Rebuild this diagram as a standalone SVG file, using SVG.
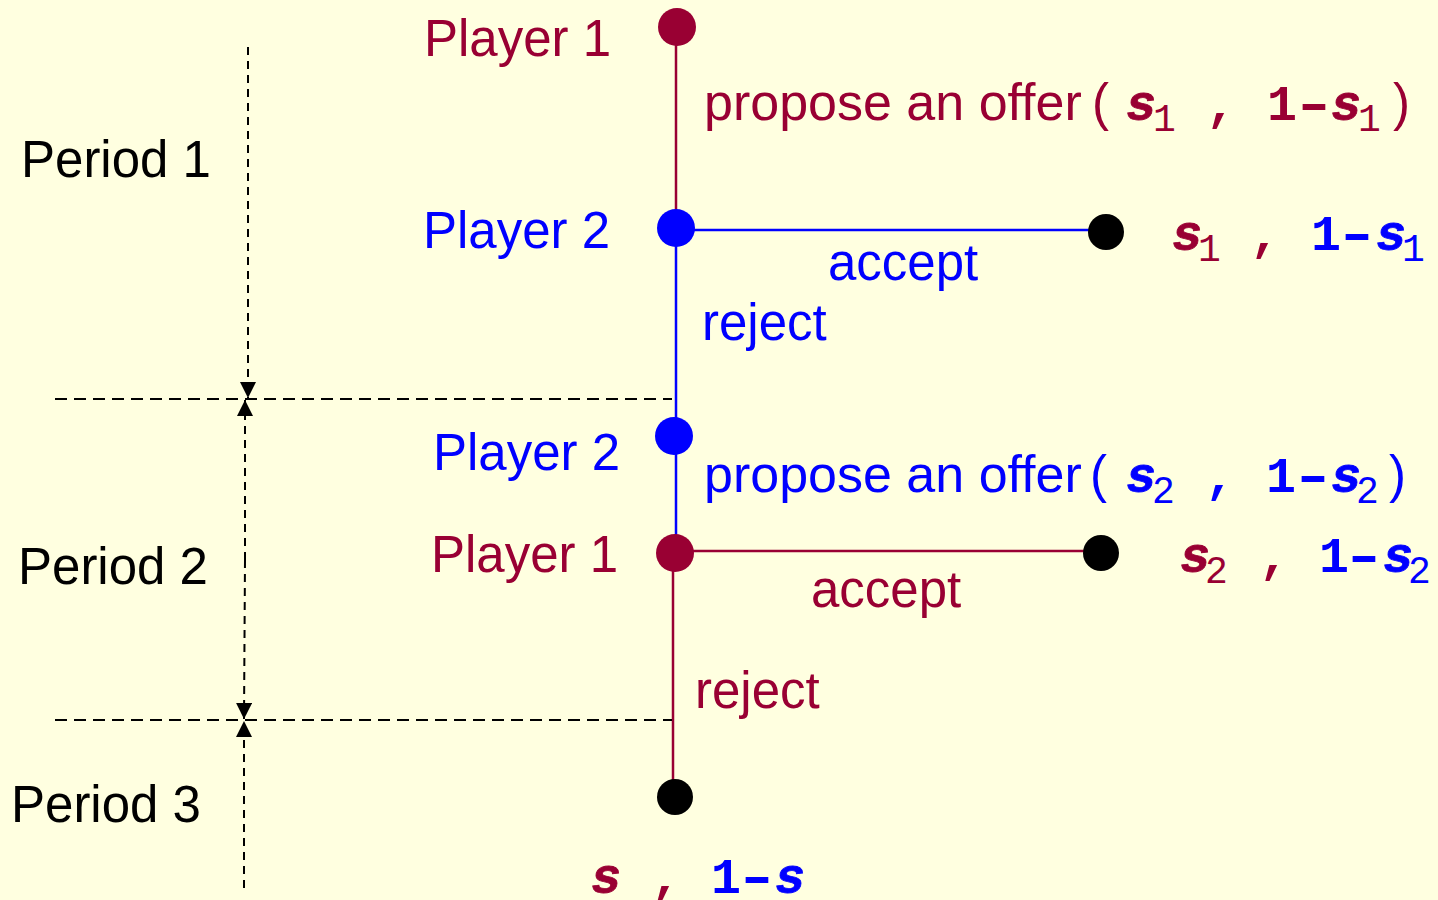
<svg xmlns="http://www.w3.org/2000/svg" width="1438" height="900" viewBox="0 0 1438 900">
<defs>
<marker id="ah" viewBox="0 0 10 10" refX="10" refY="5" markerWidth="17" markerHeight="16" markerUnits="userSpaceOnUse" orient="auto">
<path d="M0,0 L10,5 L0,10 Z" fill="#000"/>
</marker>
</defs>
<style>
.sans{font-family:"Liberation Sans",Arial,sans-serif;font-size:51px}
.wide{font-size:52px}
.mono{font-family:"Liberation Mono","Courier New",monospace;font-size:50px;font-weight:bold}
.var{font-style:italic;stroke-width:0.8px}
.var.red{stroke:#990033}
.var.blue{stroke:#0000FF}
.sub{font-family:"Liberation Mono","Courier New",monospace;font-size:38px;font-weight:normal;font-style:normal}
.red{fill:#990033}
.blue{fill:#0000FF}
.blk{fill:#000}
.dash{stroke:#000;stroke-width:2;fill:none}
</style>
<rect width="1438" height="900" fill="#FFFFE0"/>

<g id="connectors">
<line x1="676" y1="27" x2="676" y2="228" stroke="#990033" stroke-width="2.5"/>
<line x1="676" y1="228" x2="676" y2="553" stroke="#0000FF" stroke-width="2.5"/>
<line x1="676" y1="230" x2="1106" y2="230" stroke="#0000FF" stroke-width="2.5"/>
<line x1="673" y1="553" x2="673" y2="797" stroke="#990033" stroke-width="2.5"/>
<line x1="675" y1="551" x2="1101" y2="551" stroke="#990033" stroke-width="2.5"/>
</g>

<g id="periods">
<line class="dash" x1="55" y1="399" x2="672" y2="399" stroke-dasharray="12 7"/>
<line class="dash" x1="55" y1="720" x2="672" y2="720" stroke-dasharray="12 7"/>
<line class="dash" x1="248" y1="47" x2="248" y2="398" stroke-dasharray="8 6" marker-end="url(#ah)"/>
<line class="dash" x1="245" y1="560" x2="245" y2="400" stroke-dasharray="8 6" marker-end="url(#ah)"/>
<line class="dash" x1="245" y1="560" x2="244" y2="719" stroke-dasharray="8 6" marker-end="url(#ah)"/>
<line class="dash" x1="244" y1="888" x2="244" y2="721" stroke-dasharray="8 6" marker-end="url(#ah)"/>
<text class="sans blk" x="21" y="177">Period 1</text>
<text class="sans blk" x="18" y="584">Period 2</text>
<text class="sans blk" x="11" y="822">Period 3</text>
</g>

<g id="p1-start">
<circle cx="677" cy="27" r="19" fill="#990033"/>
<text class="sans red" x="424" y="56">Player 1</text>
</g>
<g id="offer1">
<text class="sans wide red" x="704" y="120">propose an offer</text>
<text class="sans red" x="1092" y="120">(</text>
<text class="mono var red" x="1126" y="120">s</text>
<text class="sub red" x="1153" y="131">1</text>
<text class="mono red" x="1206" y="120">,</text>
<text class="mono red" x="1267" y="120">1</text>
<text class="mono red" transform="translate(1314,120) scale(1.6,1)" text-anchor="middle">-</text>
<text class="mono var red" x="1331" y="120">s</text>
<text class="sub red" x="1358" y="131">1</text>
<text class="sans red" x="1393" y="120">)</text>
</g>
<g id="p2-respond">
<circle cx="676" cy="228" r="19" fill="#0000FF"/>
<text class="sans blue" x="423" y="248">Player 2</text>
<text class="sans blue" x="828" y="280">accept</text>
<text class="sans blue" x="702" y="340">reject</text>
</g>
<g id="payoff1">
<circle cx="1106" cy="232" r="18" fill="#000"/>
<text class="mono var red" x="1172" y="250">s</text>
<text class="sub red" x="1198" y="261">1</text>
<text class="mono red" x="1250" y="250">,</text>
<text class="mono blue" x="1311" y="250">1</text>
<text class="mono blue" transform="translate(1357,250) scale(1.6,1)" text-anchor="middle">-</text>
<text class="mono var blue" x="1376" y="250">s</text>
<text class="sub blue" x="1402" y="261">1</text>
</g>
<g id="p2-propose">
<circle cx="674" cy="436" r="19" fill="#0000FF"/>
<text class="sans blue" x="433" y="470">Player 2</text>
<text class="sans wide blue" x="704" y="492">propose an offer</text>
<text class="sans blue" x="1090" y="492">(</text>
<text class="mono var blue" x="1126" y="492">s</text>
<text class="sub blue" x="1152" y="503">2</text>
<text class="mono blue" x="1205" y="492">,</text>
<text class="mono blue" x="1266" y="492">1</text>
<text class="mono blue" transform="translate(1313,492) scale(1.6,1)" text-anchor="middle">-</text>
<text class="mono var blue" x="1331" y="492">s</text>
<text class="sub blue" x="1356" y="503">2</text>
<text class="sans blue" x="1389" y="492">)</text>
</g>
<g id="p1-respond">
<circle cx="675" cy="553" r="19" fill="#990033"/>
<text class="sans red" x="431" y="572">Player 1</text>
<text class="sans red" x="811" y="607">accept</text>
<text class="sans red" x="695" y="708">reject</text>
</g>
<g id="payoff2">
<circle cx="1101" cy="553" r="18" fill="#000"/>
<text class="mono var red" x="1180" y="572">s</text>
<text class="sub red" x="1205" y="583">2</text>
<text class="mono red" x="1259" y="572">,</text>
<text class="mono blue" x="1319" y="572">1</text>
<text class="mono blue" transform="translate(1364,572) scale(1.6,1)" text-anchor="middle">-</text>
<text class="mono var blue" x="1383" y="572">s</text>
<text class="sub blue" x="1408" y="583">2</text>
</g>
<g id="payoff3">
<circle cx="675" cy="797" r="18" fill="#000"/>
<text class="mono var red" x="591" y="893">s</text>
<text class="mono red" x="651" y="893">,</text>
<text class="mono blue" x="711" y="893">1</text>
<text class="mono blue" transform="translate(757,893) scale(1.6,1)" text-anchor="middle">-</text>
<text class="mono var blue" x="775" y="893">s</text>
</g>
</svg>
